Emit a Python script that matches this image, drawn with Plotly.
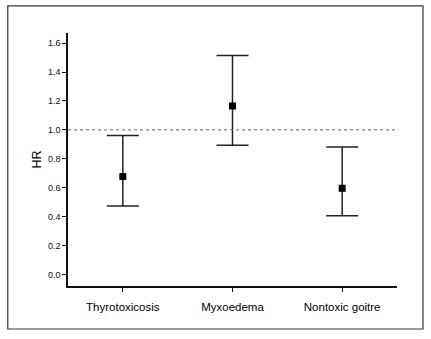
import plotly.graph_objects as go

categories = ["Thyrotoxicosis", "Myxoedema", "Nontoxic goitre"]
hr = [0.677, 1.165, 0.596]
ci_low = [0.474, 0.894, 0.406]
ci_high = [0.961, 1.515, 0.882]
y_ticks = [0.0, 0.2, 0.4, 0.6, 0.8, 1.0, 1.2, 1.4, 1.6]
reference_hr = 1.0

x_idx = list(range(len(categories)))
fig = go.Figure()
fig.add_trace(go.Scatter(
    x=x_idx, y=hr, mode="markers",
    marker=dict(symbol="square", size=7, color="black"),
    error_y=dict(type="data", symmetric=False,
                 array=[h - m for h, m in zip(ci_high, hr)],
                 arrayminus=[m - l for m, l in zip(hr, ci_low)],
                 color="#222222", thickness=1.5, width=16),
    showlegend=False,
))
fig.add_shape(type="line", xref="paper", yref="y", x0=0, x1=1,
              y0=reference_hr, y1=reference_hr,
              line=dict(color="#666666", width=1, dash="3px,3px"))
fig.add_shape(type="rect", xref="paper", yref="paper",
              x0=-0.183, x1=1.079, y0=-0.17, y1=1.107,
              line=dict(color="#333333", width=1.2))

fig.update_layout(
    width=431, height=339,
    margin=dict(l=67.5, r=34.3, t=33, b=53),
    paper_bgcolor="white", plot_bgcolor="white",
    font=dict(family="Liberation Sans, Arial, sans-serif", color="#111111"),
    xaxis=dict(range=[-0.5, 2.5], tickvals=x_idx, ticktext=categories,
               showgrid=False, zeroline=False, showline=True,
               linecolor="#111111", linewidth=1.5, ticks="outside",
               ticklen=4, tickwidth=1.2, tickcolor="#111111",
               ticklabelstandoff=5,
               tickfont=dict(size=11.5, color="#000000")),
    yaxis=dict(range=[-0.08, 1.67], tickvals=y_ticks,
               ticktext=[f"{v:.1f}" for v in y_ticks],
               showgrid=False, zeroline=False, showline=True,
               linecolor="#111111", linewidth=1.5, ticks="outside",
               ticklen=4, tickwidth=1.2, tickcolor="#111111",
               tickfont=dict(size=9),
               title=dict(text="HR", font=dict(size=12.5, color="#000000"),
                          standoff=4)),
)
fig.write_html("out.html")
